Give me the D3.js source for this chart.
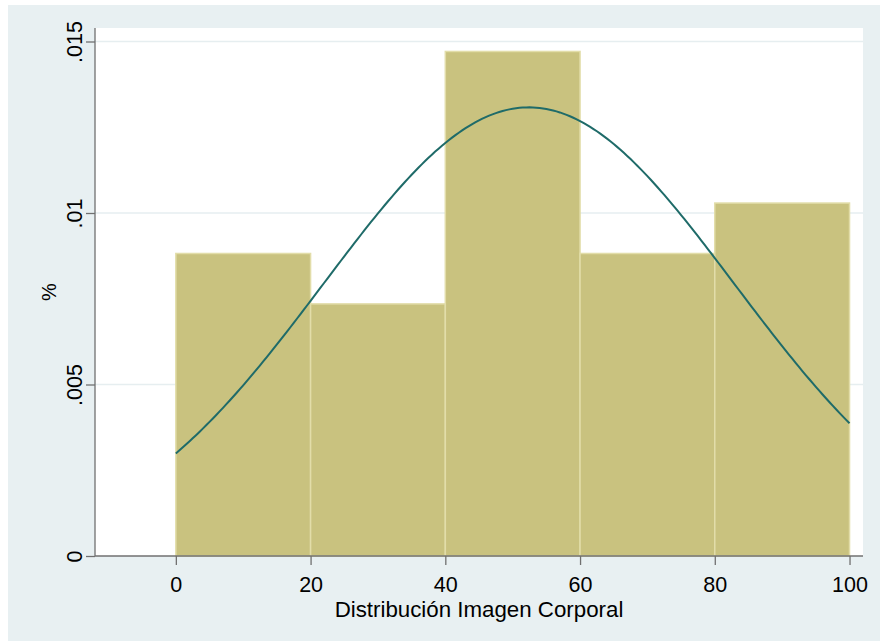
<!DOCTYPE html>
<html>
<head>
<meta charset="utf-8">
<script src="https://cdn.jsdelivr.net/npm/d3@7"></script>
<style>
  html, body { margin: 0; padding: 0; background: #ffffff; }
  svg { display: block; }
  text { font-family: "Liberation Sans", Arial, Helvetica, sans-serif; fill: #000; }
</style>
</head>
<body>
<svg id="chart" width="880" height="641"></svg>
<script>
// ---- data ----
const binStarts = [0, 20, 40, 60, 80];
const binWidth = 20;
const densities = [0.00882, 0.00735, 0.01471, 0.00882, 0.01029];
const xTicks = [0, 20, 40, 60, 80, 100];
const yTicks = [0, 0.005, 0.01, 0.015];
const yTickLabels = ["0", ".005", ".01", ".015"];
const normalMean = 52.4;
const normalSd = 30.5;
const xTitle = "Distribución Imagen Corporal";
const yTitle = "%";

// ---- layout ----
const svg = d3.select("#chart");
const W = 880, H = 641;
const plot = { left: 95, right: 863, top: 28, bottom: 556 };
const FONT = "'Liberation Sans', Arial, Helvetica, sans-serif";

svg.append("rect").attr("x", 8).attr("y", 5).attr("width", W - 8).attr("height", H - 5)
  .attr("fill", "#e8f0f2");
svg.append("rect").attr("x", plot.left).attr("y", plot.top)
  .attr("width", plot.right - plot.left).attr("height", plot.bottom - plot.top)
  .attr("fill", "#ffffff");

const x = d3.scaleLinear().domain([-12, 102]).range([plot.left, plot.right]);
const y = d3.scaleLinear().domain([0, 0.015]).range([plot.bottom, plot.bottom - 514.5]);

// gridlines
svg.append("g").selectAll("line").data(yTicks.filter(d => d > 0)).join("line")
  .attr("x1", plot.left).attr("x2", plot.right)
  .attr("y1", d => y(d)).attr("y2", d => y(d))
  .attr("stroke", "#e6eef0").attr("stroke-width", 1.6);

// bars
const bars = binStarts.map((b, i) => ({ x0: b, x1: b + binWidth, d: densities[i] }));
svg.append("g").selectAll("rect").data(bars).join("rect")
  .attr("x", d => x(d.x0)).attr("width", d => x(d.x1) - x(d.x0))
  .attr("y", d => y(d.d)).attr("height", d => y(0) - y(d.d))
  .attr("fill", "#c9c27f").attr("stroke", "#e2dda9").attr("stroke-width", 1.5);

// normal curve
const curveXs = d3.range(0, 100.001, 0.5);
const pdf = v => Math.exp(-0.5 * Math.pow((v - normalMean) / normalSd, 2)) / (normalSd * Math.sqrt(2 * Math.PI));
svg.append("path").datum(curveXs)
  .attr("d", d3.line().x(d => x(d)).y(d => y(pdf(d))))
  .attr("fill", "none").attr("stroke", "#1f6b69").attr("stroke-width", 2);

// axes
const yAxis = svg.append("g").attr("transform", `translate(${plot.left},0)`)
  .call(d3.axisLeft(y).tickValues(yTicks).tickFormat((d, i) => yTickLabels[i]).tickSize(9));
yAxis.attr("font-size", null).attr("font-family", null);
yAxis.select(".domain").attr("stroke", "#707070").attr("stroke-width", 1.3).attr("d", `M0,${plot.bottom}V${plot.top}`);
yAxis.selectAll(".tick line").attr("stroke", "#707070").attr("stroke-width", 1.3);
yAxis.selectAll(".tick text")
  .attr("x", null).attr("dy", null).attr("y", null)
  .attr("transform", "translate(-13,0) rotate(-90)")
  .attr("text-anchor", "middle")
  .style("font-size", "21.5px").style("font-family", FONT);

const xAxis = svg.append("g").attr("transform", `translate(0,${plot.bottom})`)
  .call(d3.axisBottom(x).tickValues(xTicks).tickFormat(d3.format("d")).tickSize(9));
xAxis.attr("font-size", null).attr("font-family", null);
xAxis.select(".domain").attr("stroke", "#707070").attr("stroke-width", 1.3).attr("d", `M${plot.left},0H${plot.right}`);
xAxis.selectAll(".tick line").attr("stroke", "#707070").attr("stroke-width", 1.3);
xAxis.selectAll(".tick text").attr("y", 35.5).attr("dy", null)
  .style("font-size", "21.5px").style("font-family", FONT);

// titles
svg.append("text").attr("x", (plot.left + plot.right) / 2).attr("y", 616.5)
  .attr("text-anchor", "middle").style("font-size", "22.3px").style("font-family", FONT).text(xTitle);
svg.append("text").attr("transform", `translate(56,${(plot.top + plot.bottom) / 2}) rotate(-90)`)
  .attr("text-anchor", "middle").style("font-size", "20px").style("font-family", FONT).text(yTitle);
</script>
</body>
</html>
